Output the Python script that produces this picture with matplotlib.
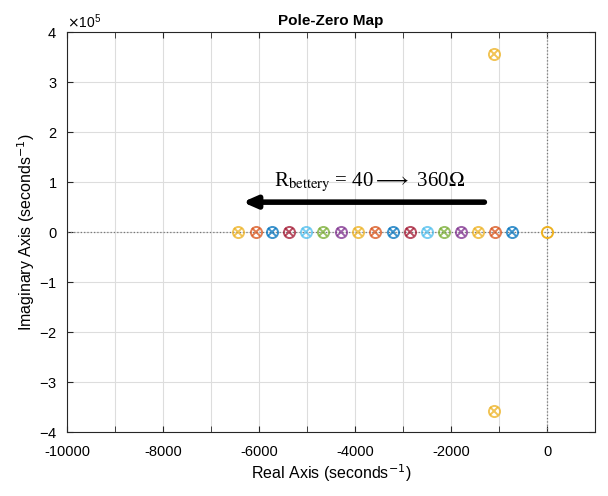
import matplotlib.pyplot as plt
from matplotlib.ticker import MultipleLocator

# real poles/zeros (one per R_battery value)
real_poles = [-6437, -6062, -5729, -5375, -5021, -4667, -4292, -3937, -3583,
              -3208, -2854, -2500, -2146, -1792, -1437, -1083, -729]
complex_re = [-1104, -1104]
complex_im = [3.57e5, -3.57e5]
zero_re = [0]
zero_im = [0]

colors = ['#EDB120', '#D95319', '#0072BD', '#A2142F', '#4DBEEE', '#77AC30', '#7E2F8E']

plt.rcParams['font.family'] = ['Liberation Sans', 'DejaVu Sans']
plt.rcParams['axes.unicode_minus'] = False

fig = plt.figure(figsize=(6.08, 4.96), dpi=100)
ax = fig.add_axes([0.110, 0.129, 0.869, 0.806])

ax.axhline(0, color='#777777', ls=':', lw=0.9, zorder=1)
ax.axvline(0, color='#777777', ls=':', lw=0.9, zorder=1)

for i, x in enumerate(real_poles):
    c = colors[i % len(colors)]
    ax.plot(x, 0, 'o', mfc='none', mec=c, ms=8, mew=1.4, alpha=0.75, zorder=3)
    ax.plot(x, 0, 'x', color=c, ms=6, mew=1.4, alpha=0.75, zorder=3)

ax.plot(complex_re, complex_im, 'o', mfc='none', mec=colors[0], ms=8, mew=1.4, alpha=0.75, zorder=3)
ax.plot(complex_re, complex_im, 'x', color=colors[0], ms=6, mew=1.4, alpha=0.75, zorder=3)
ax.plot(zero_re, zero_im, 'o', mfc='none', mec=colors[0], ms=8, mew=1.4, zorder=3)

ax.annotate('', xy=(-6400, 0.6e5), xytext=(-1250, 0.6e5),
            arrowprops=dict(arrowstyle='-|>,head_length=0.8,head_width=0.35',
                            color='black', lw=4), zorder=4)
ax.text(-3700, 1.0e5, r'R$_{\mathrm{bettery}}$ = 40$\longrightarrow$ 360$\Omega$',
        fontsize=15, family='Liberation Serif', ha='center', va='center',
        math_fontfamily='stix', zorder=4)

ax.set_xlim(-10000, 1000)
ax.set_ylim(-4e5, 4e5)
ax.xaxis.set_major_locator(MultipleLocator(2000))
ax.xaxis.set_minor_locator(MultipleLocator(1000))
ax.yaxis.set_major_locator(MultipleLocator(1e5))
ax.ticklabel_format(axis='y', style='sci', scilimits=(5, 5), useMathText=True)
ax.grid(True, which='both', color='#dddddd', lw=0.8)
ax.set_axisbelow(True)
ax.tick_params(which='both', direction='in', top=True, right=True, length=4, color='#262626')
ax.tick_params(axis='x', labelsize=10.5, pad=9)
ax.tick_params(axis='y', labelsize=10.5, pad=7)
for s in ax.spines.values():
    s.set_color('#262626')
    s.set_linewidth(0.8)

ax.set_title('Pole-Zero Map', fontsize=11, fontweight='bold', pad=5)
ax.set_xlabel('Real Axis (seconds$^{-1}$)', fontsize=11.5, labelpad=3)
ax.set_ylabel('Imaginary Axis (seconds$^{-1}$)', fontsize=11.5, labelpad=1)

fig.savefig('out.png', dpi=100)
